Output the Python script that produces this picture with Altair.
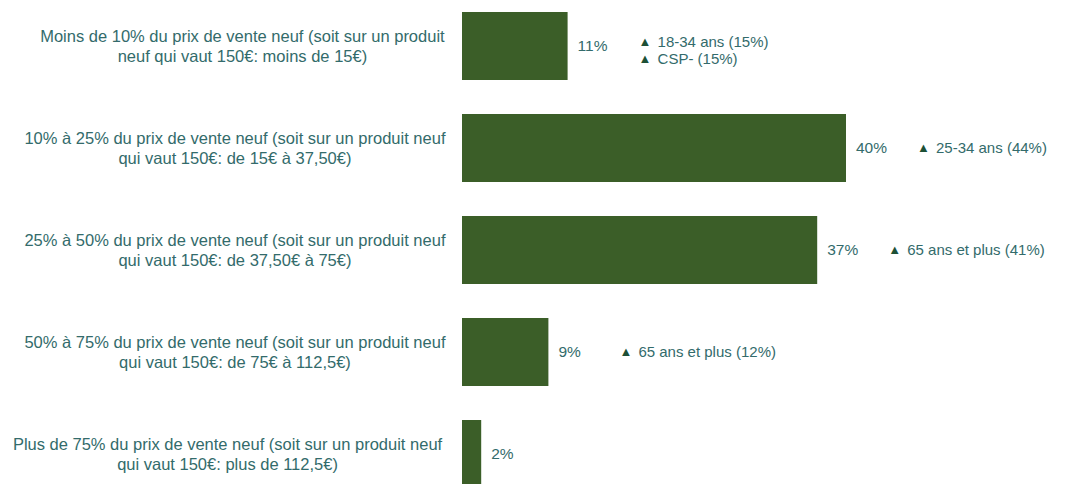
import altair as alt
import pandas as pd

label_line1 = [
    "Moins de 10% du prix de vente neuf (soit sur un produit",
    "10% à 25% du prix de vente neuf (soit sur un produit neuf",
    "25% à 50% du prix de vente neuf (soit sur un produit neuf",
    "50% à 75% du prix de vente neuf (soit sur un produit neuf",
    "Plus de 75% du prix de vente neuf (soit sur un produit neuf",
]
label_line2 = [
    "neuf qui vaut 150€: moins de 15€)",
    "qui vaut 150€: de 15€ à 37,50€)",
    "qui vaut 150€: de 37,50€ à 75€)",
    "qui vaut 150€: de 75€ à 112,5€)",
    "qui vaut 150€: plus de 112,5€)",
]
values = [11, 40, 37, 9, 2]
annotations = [
    ["18-34 ans (15%)", "CSP- (15%)"],
    ["25-34 ans (44%)"],
    ["65 ans et plus (41%)"],
    ["65 ans et plus (12%)"],
    [],
]

BAR = "#3b5e28"
TEXT = "#336b6b"
TRI = "#1d5036"
FONT = "Liberation Sans"

cats = [a + "\n" + b for a, b in zip(label_line1, label_line2)]
df = pd.DataFrame({
    "cat": cats,
    "l1": label_line1,
    "value": values,
    "vlabel": [f"{v}%" for v in values],
    "annot": ["\n".join(a) for a in annotations],
    "tri": ["\n".join("▲" for _ in a) for a in annotations],
    "nlines": [len(a) for a in annotations],
})

base = alt.Chart(df)
x_enc = alt.X("value:Q", scale=alt.Scale(domain=[0, 62.5]), axis=None)
y_enc = alt.Y("cat:N", sort=cats, axis=None,
              scale=alt.Scale(paddingInner=0.333, paddingOuter=0.118))

bars = base.mark_bar(color=BAR).encode(x=x_enc, y=y_enc)

vlabels = base.mark_text(align="left", baseline="middle", dx=10, fontSize=15.5,
                         font=FONT, color=TEXT).encode(x=x_enc, y=y_enc, text="vlabel:N")


def annotation_layers(filter_expr, dy):
    b = base.transform_filter(filter_expr)
    tris = b.mark_text(align="left", baseline="middle", dx=71, dy=dy, fontSize=13,
                       font=FONT, color=TRI, lineBreak="\n", lineHeight=17).encode(
        x=x_enc, y=y_enc, text="tri:N")
    annots = b.mark_text(align="left", baseline="middle", dx=90, dy=dy, fontSize=15,
                         font=FONT, color=TEXT, lineBreak="\n", lineHeight=17).encode(
        x=x_enc, y=y_enc, text="annot:N")
    return [tris, annots]


ann_single = annotation_layers("datum.nlines == 1", 0)
ann_double = annotation_layers("datum.nlines == 2", -4.5)

left = base.transform_calculate(
    lx="-15 - length(datum.l1) * 3.72"
).mark_text(align="center", baseline="middle", dy=-9, fontSize=16.5, font=FONT,
            color=TEXT, lineBreak="\n", lineHeight=20).encode(
    x=alt.X("lx:Q", scale=None, axis=None), y=y_enc, text="cat:N")

chart = alt.layer(bars, vlabels, *ann_single, *ann_double, left).resolve_scale(
    x="independent"
).properties(
    width=600, height=500,
    autosize=alt.AutoSizeParams(type="none"),
    padding={"left": 462, "top": 0, "right": 5, "bottom": 0},
    background="white",
).configure_view(stroke=None)

chart.save("out.html", embed_options={"renderer": "svg", "actions": False})
